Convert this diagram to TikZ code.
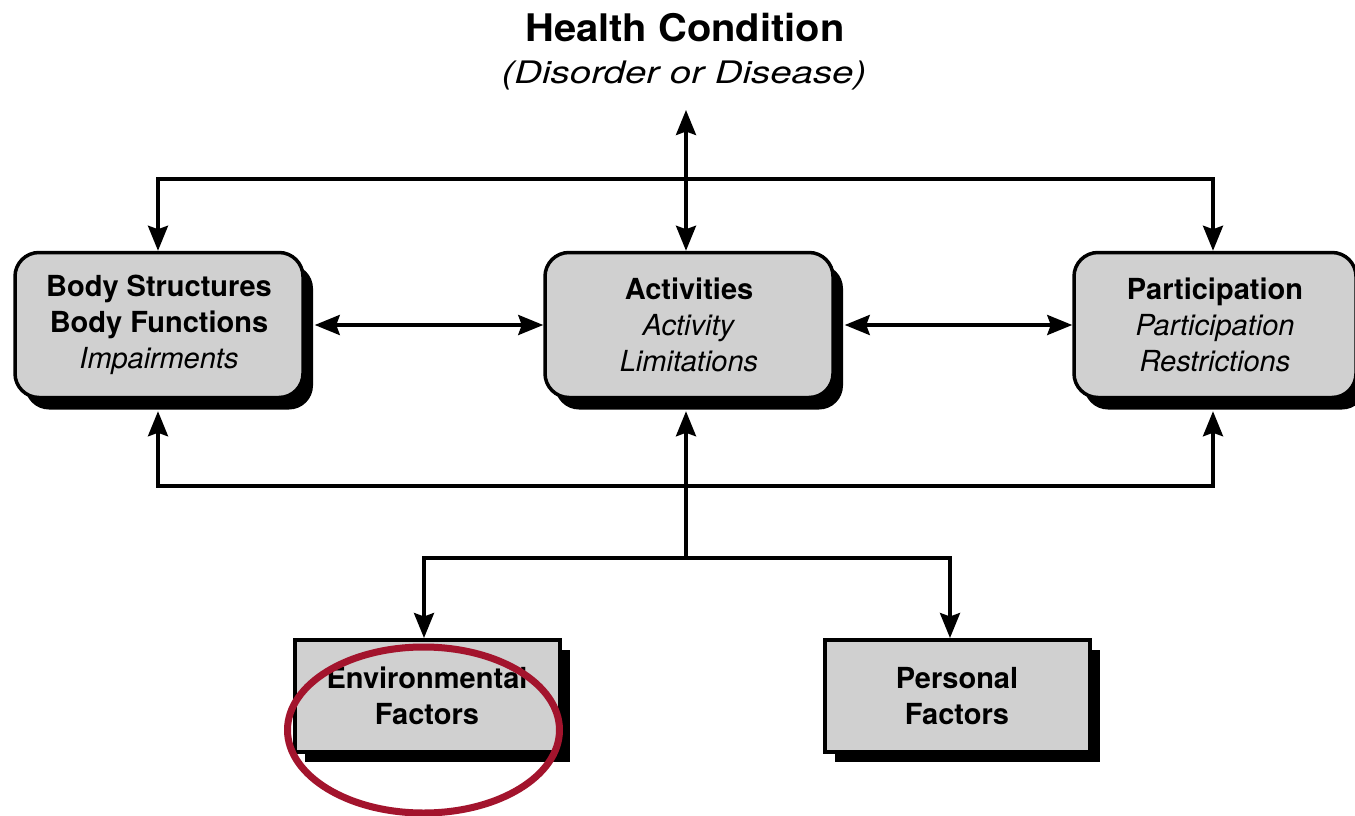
\documentclass[tikz,border=0pt]{standalone}
\usepackage{fontspec}
\usepackage{graphicx}
\setmainfont{TeX Gyre Heros}
\usetikzlibrary{arrows.meta,shadows}
\definecolor{boxgray}{RGB}{208,208,208}
\definecolor{circred}{RGB}{163,20,45}
\begin{document}
\begin{tikzpicture}[x=1pt,y=-1pt,
  conn/.style={line width=3.5pt, line cap=rect},
  tip/.style={-{Stealth[length=25pt,width=20pt,inset=3.5pt]}},
  dtip/.style={{Stealth[length=25pt,width=20pt,inset=3.5pt]}-{Stealth[length=25pt,width=20pt,inset=3.5pt]}},
  mainbox/.style={draw=black, line width=3.5pt, fill=boxgray, rounded corners=24pt,
    minimum width=288pt, minimum height=145pt, inner sep=0pt, align=center,
    font=\fontsize{29}{36}\selectfont,
    drop shadow={shadow xshift=10pt, shadow yshift=-12pt, fill=black, opacity=1}},
  factbox/.style={draw=black, line width=4pt, fill=boxgray,
    minimum width=265pt, minimum height=112pt, inner sep=0pt, align=center,
    font=\fontsize{29}{36}\selectfont\bfseries,
    drop shadow={shadow xshift=10pt, shadow yshift=-10pt, fill=black, opacity=1}},
]
\useasboundingbox (0,0) rectangle (1355,816);
\fill[white] (0,0) rectangle (1355,816);

\node[font=\fontsize{38}{44}\selectfont\bfseries] (hc) at (685,28) {\scalebox{1.05}[1]{Health Condition}};
\node[font=\fontsize{31}{36}\selectfont\itshape] (dis) at (684,76) {\scalebox{1.24}[1]{(Disorder or Disease)}};

\node[mainbox] (body) at (159,325) {\textbf{Body Structures}\\\textbf{Body Functions}\\\textit{Impairments}};
\node[mainbox] (act) at (689,325) {\textbf{Activities}\\\textit{Activity}\\\textit{Limitations}};
\node[mainbox, minimum width=282pt] (part) at (1215,325) {\textbf{Participation}\\\textit{Participation}\\\textit{Restrictions}};

\node[factbox] (env) at (427,696) {Environmental\\Factors};
\node[factbox] (pers) at (957,696) {Personal\\Factors};

\coordinate (hcarr) at (686,110);
\coordinate (tl) at (158,179);
\coordinate (tr) at (1213,179);
\coordinate (bl) at (158,486);
\coordinate (br) at (1213,486);
\coordinate (fork) at (686,558);
\coordinate (fl) at (424,558);
\coordinate (fr) at (950,558);
\coordinate (bodyb) at ([yshift=-12pt]body.south);
\coordinate (actb) at ([yshift=-12pt]act.south);
\coordinate (partb) at ([yshift=-12pt]part.south);

\draw[conn,dtip] (hcarr) -- (hcarr |- act.north);
\draw[conn] (tl) -- (tr);
\draw[conn,tip] (tl) -- (tl |- body.north);
\draw[conn,tip] (tr) -- (tr |- part.north);
\draw[conn,dtip] ([xshift=10pt]body.east) -- (act.west);
\draw[conn,dtip] ([xshift=10pt]act.east) -- (part.west);
\draw[conn] (bl) -- (br);
\draw[conn,tip] (bl) -- (bl |- bodyb);
\draw[conn,tip] (br) -- (br |- partb);
\draw[conn,tip] (fork) -- (fork |- actb);
\draw[conn] (fl) -- (fr);
\draw[conn,tip] (fl) -- (fl |- env.north);
\draw[conn,tip] (fr) -- (fr |- pers.north);

\draw[circred, line width=7pt] (423.5,730) ellipse [x radius=136pt, y radius=83pt];
\end{tikzpicture}
\end{document}
